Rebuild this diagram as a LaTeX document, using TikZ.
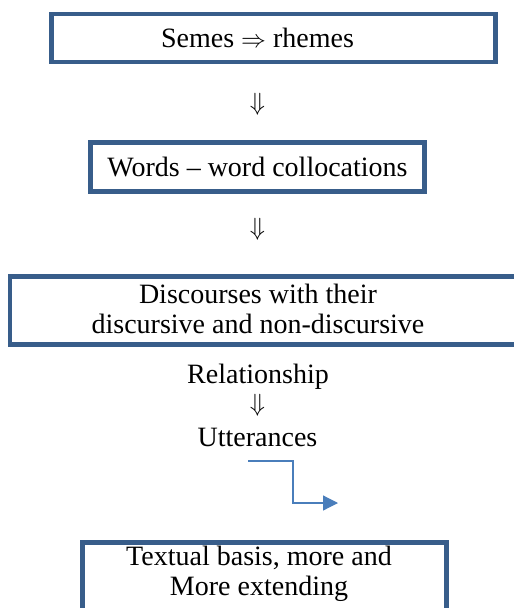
\documentclass[tikz,border=0pt]{standalone}
\usepackage{fontspec}
\setmainfont{Liberation Serif}
\usepackage{tikz}
\usetikzlibrary{arrows.meta, positioning}
\definecolor{frameblue}{HTML}{385D8A}
\definecolor{linkblue}{HTML}{4A7EBB}

\begin{document}
\begin{tikzpicture}[
  x=1pt, y=1pt,
  textbox/.style={rectangle, draw=frameblue, line width=4.5pt, fill=white, inner sep=2pt, align=center, font=\fontsize{28}{30}\selectfont},
  plain/.style={font=\fontsize{28}{30}\selectfont, inner sep=0pt, anchor=base},
  dnarrow/.style={font=\fontsize{23}{25}\selectfont, inner sep=0pt},
  elbow/.style={-{Triangle[length=15pt, width=15pt]}, draw=linkblue, line width=1.2pt},
]
  \useasboundingbox (0,0) rectangle (514,-608);

  \node[textbox, minimum width=444pt, minimum height=48pt] (semes) at (273.5,-38) {\hspace*{-32pt}Semes $\Rightarrow$ rhemes};
  \node[dnarrow] (down1) at (257.5,-104) {$\Downarrow$};
  \node[textbox, minimum width=334pt, minimum height=49pt] (words) at (257.5,-167) {Words -- word collocations};
  \node[dnarrow] (down2) at (257.5,-229) {$\Downarrow$};
  \node[textbox, minimum width=530pt, minimum height=68pt, text depth=4pt] (discourses) at (275,-310.5) {\hspace*{-34pt}Discourses with their\\\hspace*{-34pt}discursive and non-discursive};
  \node[plain] (relation) at (258,-383) {Relationship};
  \node[dnarrow] (down3) at (257.5,-405) {$\Downarrow$};
  \node[plain] (utter) at (257.5,-446) {Utterances};
  \node[textbox, minimum width=364pt, minimum height=71.5pt, text depth=15.6pt] (textual) at (264.5,-578.25) {\hspace*{-11pt}Textual basis, more and\\\hspace*{-11pt}More extending};

  % connector below Utterances
  \coordinate (uttout) at (248,-461);
  \coordinate (basisin) at (338,-503);
  \draw[elbow] (uttout) -- ++(45,0) |- (basisin);

\end{tikzpicture}
\end{document}
